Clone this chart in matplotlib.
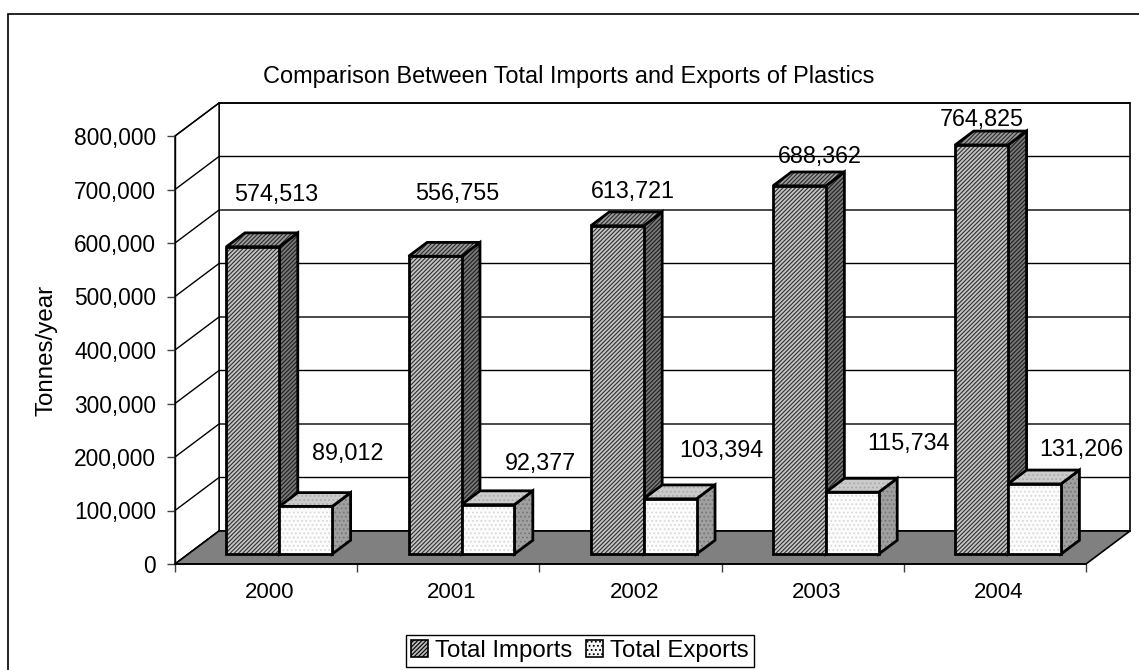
import matplotlib
matplotlib.use('Agg')
import matplotlib.pyplot as plt
from matplotlib.patches import Polygon, Patch, Rectangle
from matplotlib.lines import Line2D
from matplotlib.ticker import FixedLocator, FuncFormatter, NullFormatter

# ---------------- data ----------------
years = ['2000', '2001', '2002', '2003', '2004']
imports = [574513, 556755, 613721, 688362, 764825]
exports = [89012, 92377, 103394, 115734, 131206]
series_names = ['Total Imports', 'Total Exports']
y_ticks = [0, 100000, 200000, 300000, 400000, 500000, 600000, 700000, 800000]
title = 'Comparison Between Total Imports and Exports of Plastics'
y_title = 'Tonnes/year'

# ---------------- layout (label placement, not data) ----------------
imp_label_x = [0.554, 0.548, 0.514, 0.540, 0.429]
imp_label_lift = [117000, 135000, 83000, 74000, 66000]
exp_label_x = [0.950, 1.003, 0.997, 1.023, 0.973]
exp_label_lift = [118000, 96000, 108000, 110000, 82000]

plt.rcParams['font.family'] = ['Liberation Sans', 'DejaVu Sans']
plt.rcParams['hatch.linewidth'] = 0.8

W, H = 1139, 670
fig = plt.figure(figsize=(W / 100, H / 100), dpi=100)

# outer chart-area frame (extends beyond right/bottom edges)
fig.patches.append(Rectangle((8 / W, -0.05), 1.1, 1 - 14 / H + 0.05,
                             transform=fig.transFigure, fill=False,
                             edgecolor='black', lw=1.2))

ax_l, ax_r, ax_t, ax_b = 175, 1086, 136, 564
ax = fig.add_axes([ax_l / W, (H - ax_b) / H, (ax_r - ax_l) / W, (ax_b - ax_t) / H])
n = len(years)
ymax = y_ticks[-1]
ax.set_xlim(0, n)
ax.set_ylim(0, ymax)
ax.patch.set_visible(False)

# depth of the pseudo-3D box, in pixels, converted to data units
DEPTH_PX = (44, 33)
DX = DEPTH_PX[0] / ((ax_r - ax_l) / n)
DY = DEPTH_PX[1] / ((ax_b - ax_t) / ymax)


def P(x, v, d):
    return (x + d * DX, v + d * DY)


def poly(pts, z, **kw):
    p = Polygon(pts, closed=True, clip_on=False, zorder=z, **kw)
    ax.add_patch(p)


# walls and floor
poly([P(0, 0, 1), P(n, 0, 1), P(n, ymax, 1), P(0, ymax, 1)], 1,
     facecolor='white', edgecolor='black', lw=1.2)
poly([P(0, 0, 0), P(0, 0, 1), P(0, ymax, 1), P(0, ymax, 0)], 1,
     facecolor='white', edgecolor='black', lw=1.0)
for v in y_ticks:
    pts = [P(0, v, 0), P(0, v, 1), P(n, v, 1)]
    ax.add_line(Line2D([p[0] for p in pts], [p[1] for p in pts], color='black',
                       lw=1.0, clip_on=False, zorder=1.5))
poly([P(0, 0, 0), P(n, 0, 0), P(n, 0, 1), P(0, 0, 1)], 2,
     facecolor='#808080', edgecolor='black', lw=1.2)

# bars
BAR_START, BAR_W = 0.21, 0.29
D0, D1 = 0.30, 0.72
styles = [
    dict(front=('#c4c4c4', '#303030', '////////'),
         side=('#787878', '#1e1e1e', '////////'),
         top=('#9c9c9c', '#2a2a2a', '////////')),
    dict(front=('#fcfcfc', '#d8d8d8', '....'),
         side=('#a0a0a0', '#787878', '....'),
         top=('#cbcbcb', '#aaaaaa', '....')),
]


def face(pts, st, z):
    fc, hc, hatch = st
    poly(pts, z, facecolor=fc, edgecolor=hc, hatch=hatch, lw=0)
    poly(pts, z + 0.01, fill=False, edgecolor='black', lw=2.0, joinstyle='miter')


z = 3
for i in range(n):
    for s, vals in enumerate([imports, exports]):
        v = vals[i]
        x0 = i + BAR_START + s * BAR_W
        x1 = x0 + BAR_W
        st = styles[s]
        face([P(x1, 0, D0), P(x1, 0, D1), P(x1, v, D1), P(x1, v, D0)], st['side'], z)
        face([P(x0, v, D0), P(x1, v, D0), P(x1, v, D1), P(x0, v, D1)], st['top'], z + 0.1)
        face([P(x0, 0, D0), P(x1, 0, D0), P(x1, v, D0), P(x0, v, D0)], st['front'], z + 0.2)
        z += 1

# value labels
for i in range(n):
    ax.text(i + imp_label_x[i], imports[i] + imp_label_lift[i], f'{imports[i]:,}',
            ha='center', va='center', fontsize=16.8, zorder=50, clip_on=False)
    ax.text(i + exp_label_x[i], exports[i] + exp_label_lift[i], f'{exports[i]:,}',
            ha='center', va='center', fontsize=16.8, zorder=50, clip_on=False)

# axes
for sp in ['top', 'right']:
    ax.spines[sp].set_visible(False)
ax.spines['left'].set_linewidth(1.0)
ax.spines['bottom'].set_linewidth(1.2)
ax.spines['left'].set_zorder(2.5)
ax.spines['bottom'].set_zorder(2.5)

ax.yaxis.set_major_locator(FixedLocator(y_ticks))
ax.yaxis.set_major_formatter(FuncFormatter(lambda v, p: f'{int(v):,}'))
ax.tick_params(axis='y', direction='out', length=5.5, width=1, pad=8, labelsize=16.4,
               color='#404040')

ax.xaxis.set_major_locator(FixedLocator(list(range(n + 1))))
ax.xaxis.set_major_formatter(NullFormatter())
ax.xaxis.set_minor_locator(FixedLocator([i + 0.52 for i in range(n)]))
ax.set_xticklabels(years, minor=True)
ax.tick_params(axis='x', which='major', direction='out', length=6, width=1, color='#404040')
ax.tick_params(axis='x', which='minor', length=0, pad=13, labelsize=16)

# titles
fig.text(569 / W, 1 - 76 / H, title, ha='center', va='center', fontsize=16.9)
fig.text(46 / W, 1 - 350 / H, y_title, rotation=90, ha='center', va='center', fontsize=17.4)

# legend
handles = [
    Patch(facecolor='#b8b8b8', edgecolor='black', hatch='////////', lw=1.2),
    Patch(facecolor='#f6f6f6', edgecolor='black', hatch='....', lw=1.2),
]
leg = fig.legend(handles, series_names, loc='center', ncol=2,
                 bbox_to_anchor=(580 / W, 1 - 651 / H), fontsize=17.3,
                 handlelength=0.72, handleheight=0.72, handletextpad=0.3,
                 columnspacing=0.55, borderpad=0.2, borderaxespad=0,
                 fancybox=False, frameon=True, edgecolor='black', framealpha=1)
leg.get_frame().set_linewidth(1.0)

fig.savefig('out.png', dpi=100)
